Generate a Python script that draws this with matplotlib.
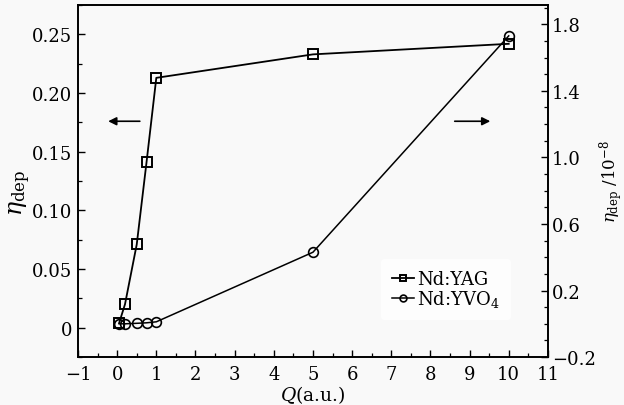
import matplotlib
matplotlib.use("Agg")
import matplotlib.pyplot as plt
from matplotlib.ticker import MultipleLocator, FuncFormatter, FixedLocator

plt.rcParams['font.family'] = 'DejaVu Serif'
plt.rcParams['mathtext.fontset'] = 'dejavuserif'
plt.rcParams['axes.unicode_minus'] = True

# data
q = [0.05, 0.2, 0.5, 0.75, 1.0, 5.0, 10.0]
eta_yag = [0.004, 0.020, 0.071, 0.141, 0.213, 0.233, 0.242]
eta_yvo4 = [0.0, 0.0, 0.003, 0.006, 0.012, 0.43, 1.73]

bg = '#f9f9f9'
fig = plt.figure(figsize=(6.24, 4.06), dpi=100, facecolor=bg)
ax = fig.add_axes([0.125, 0.118, 0.753, 0.867], facecolor=bg)
ax2 = ax.twinx()

l1, = ax.plot(q, eta_yag, '-s', color='black', lw=1.3, ms=6.5, mfc='none', mew=1.4)
l2, = ax2.plot(q, eta_yvo4, '-o', color='black', lw=1.1, ms=7, mfc='none', mew=1.2)

ax.set_xlim(-1, 11)
ax.set_ylim(-0.025, 0.275)
ax2.set_ylim(-0.2, 1.915)

ax.xaxis.set_major_locator(MultipleLocator(1))
ax.xaxis.set_minor_locator(MultipleLocator(0.5))
ax.yaxis.set_major_locator(MultipleLocator(0.05))
ax.yaxis.set_minor_locator(MultipleLocator(0.025))
ax.yaxis.set_major_formatter(FuncFormatter(lambda v, p: '0' if abs(v) < 1e-9 else '%.2f' % v))
ax.xaxis.set_major_formatter(FuncFormatter(lambda v, p: ('%d' % round(v)).replace('-', '\u2212')))
ax2.yaxis.set_major_locator(FixedLocator([-0.2, 0.2, 0.6, 1.0, 1.4, 1.8]))
ax2.yaxis.set_minor_locator(MultipleLocator(0.1))
ax2.yaxis.set_major_formatter(FuncFormatter(lambda v, p: ('%.1f' % v).replace('-', '\u2212')))

for a in (ax, ax2):
    a.tick_params(which='major', direction='in', length=5, width=1.0, labelsize=13, pad=4)
    a.tick_params(which='minor', direction='in', length=3, width=0.9)
    for s in a.spines.values():
        s.set_linewidth(1.2)
ax.tick_params(axis='y', which='both', right=False)
ax.tick_params(axis='x', which='both', top=False)
ax.tick_params(axis='x', pad=6)
ax2.tick_params(axis='y', pad=3)

ax.set_xlabel(r'$Q$(a.u.)', fontsize=13.5, labelpad=0)
ax.set_ylabel(r'$\eta_{\rm dep}$', fontsize=17)
ax.yaxis.set_label_coords(-0.095, 0.47)
ax2.set_ylabel(r'$\eta_{\rm dep}$ /10$^{-8}$', fontsize=12)
ax2.yaxis.set_label_coords(1.105, 0.5)

ax.annotate('', xy=(-0.3, 0.176), xytext=(0.65, 0.176),
            arrowprops=dict(arrowstyle='-|>', color='black', lw=1.2, mutation_scale=12))
ax.annotate('', xy=(9.6, 0.176), xytext=(8.55, 0.176),
            arrowprops=dict(arrowstyle='-|>', color='black', lw=1.2, mutation_scale=12))

leg = ax2.legend([l1, l2], ['Nd:YAG', r'Nd:YVO$_4$'], loc='lower right',
                 bbox_to_anchor=(0.94, 0.08), frameon=True, fontsize=13,
                 handlelength=1.2, handletextpad=0.2, borderpad=0.6,
                 labelspacing=0.0, markerscale=0.7)
leg.get_frame().set_facecolor('white')
leg.get_frame().set_edgecolor('none')

fig.savefig('out.png', dpi=100, facecolor=bg)
